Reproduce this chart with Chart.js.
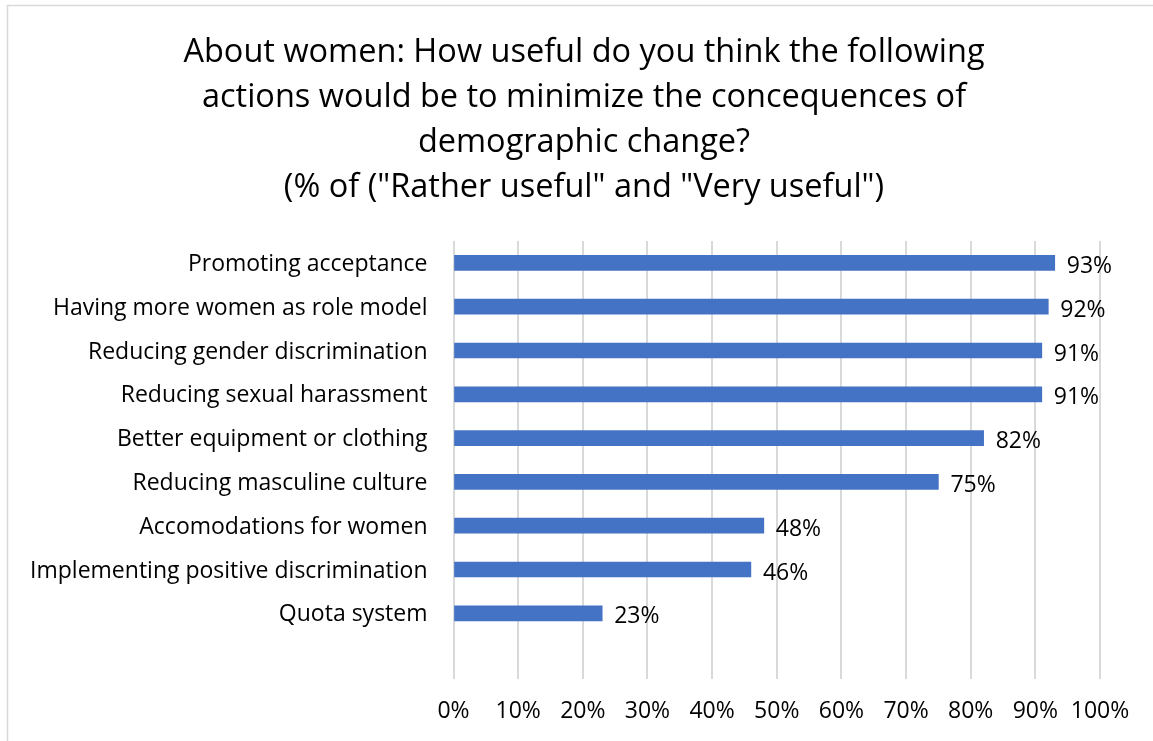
<!DOCTYPE html>
<html>
<head>
<meta charset="utf-8">
<script src="https://cdn.jsdelivr.net/npm/chart.js@4"></script>
<style>
  html, body { margin: 0; padding: 0; background: #ffffff; }
  #wrap { position: relative; width: 1153px; height: 741px; }
</style>
</head>
<body>
<div id="wrap"><canvas id="chart" width="1153" height="741"></canvas></div>
<script>
// Survey answers: share answering "Rather useful" or "Very useful" (%)
const actions = [
  'Promoting acceptance',
  'Having more women as role model',
  'Reducing gender discrimination',
  'Reducing sexual harassment',
  'Better equipment or clothing',
  'Reducing masculine culture',
  'Accomodations for women',
  'Implementing positive discrimination',
  'Quota system',
  ''
];
const usefulShare = [93, 92, 91, 91, 82, 75, 48, 46, 23, null];
const titleLines = [
  'About women: How useful do you think the following',
  'actions would be to minimize the concequences of',
  'demographic change?',
  '(% of ("Rather useful" and "Very useful")'
];
const percentTicks = [0, 10, 20, 30, 40, 50, 60, 70, 80, 90, 100];

const FONT = '"Open Sans", "Noto Sans", sans-serif';

// Thin frame along the top and left edge of the chart
const framePlugin = {
  id: 'frame',
  beforeDraw(chart) {
    const ctx = chart.ctx;
    ctx.save();
    ctx.strokeStyle = '#d9d9d9';
    ctx.lineWidth = 1.5;
    ctx.beginPath();
    ctx.moveTo(7.5, chart.height);
    ctx.lineTo(7.5, 5.5);
    ctx.lineTo(chart.width, 5.5);
    ctx.stroke();
    ctx.restore();
  }
};

// Centered multi-line heading in the reserved top band
const headingPlugin = {
  id: 'heading',
  afterDraw(chart) {
    const ctx = chart.ctx;
    ctx.save();
    ctx.font = '32.5px ' + FONT;
    ctx.fillStyle = '#000000';
    ctx.textAlign = 'center';
    ctx.textBaseline = 'alphabetic';
    titleLines.forEach((line, i) => {
      ctx.fillText(line, 584, 61.5 + i * 45);
    });
    ctx.restore();
  }
};

// Value labels to the right of each bar
const valueLabels = {
  id: 'valueLabels',
  afterDatasetsDraw(chart) {
    const ctx = chart.ctx;
    const meta = chart.getDatasetMeta(0);
    ctx.save();
    ctx.font = '23px ' + FONT;
    ctx.fillStyle = '#000000';
    ctx.textAlign = 'left';
    ctx.textBaseline = 'alphabetic';
    meta.data.forEach((bar, i) => {
      const v = usefulShare[i];
      if (v === null || v === undefined) return;
      ctx.fillText(v + '%', bar.x + 12, bar.y + 10);
    });
    ctx.restore();
  }
};

new Chart(document.getElementById('chart'), {
  type: 'bar',
  data: {
    labels: actions,
    datasets: [{
      data: usefulShare,
      backgroundColor: '#4472C4',
      borderWidth: 0,
      barThickness: 15,
      categoryPercentage: 1,
      barPercentage: 1
    }]
  },
  options: {
    indexAxis: 'y',
    responsive: false,
    animation: false,
    layout: { padding: { left: 10, right: 53, top: 241, bottom: 0 } },
    plugins: {
      legend: { display: false },
      tooltip: { enabled: false },
      title: { display: false }
    },
    scales: {
      x: {
        min: 0,
        max: 100,
        afterBuildTicks(scale) {
          scale.ticks = percentTicks.map(v => ({ value: v }));
        },
        afterFit(scale) { scale.height = 62; },
        grid: { color: '#d9d9d9', lineWidth: 2, drawTicks: false },
        border: { display: false },
        ticks: {
          padding: 19,
          color: '#000000',
          font: { family: FONT, size: 23 },
          maxRotation: 0,
          callback: v => v + '%'
        }
      },
      y: {
        afterFit(scale) { scale.width = 443.5; },
        grid: { display: false, drawTicks: false },
        border: { display: false },
        ticks: {
          padding: 26,
          labelOffset: 1.5,
          color: '#000000',
          font: { family: FONT, size: 23 },
          autoSkip: false
        }
      }
    }
  },
  plugins: [framePlugin, headingPlugin, valueLabels]
});
</script>
</body>
</html>
